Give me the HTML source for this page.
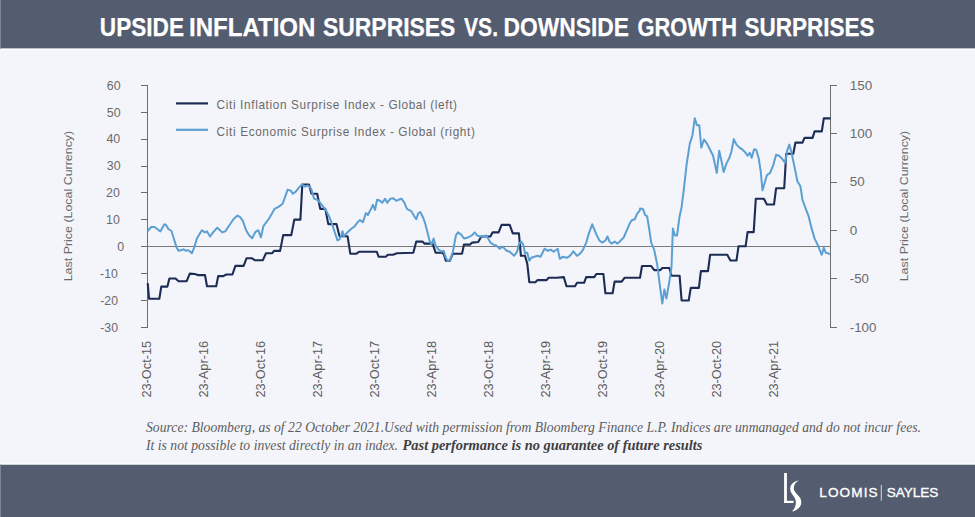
<!DOCTYPE html>
<html><head><meta charset="utf-8"><style>
html,body{margin:0;padding:0;background:#f4f5fa;}
body{width:975px;height:517px;overflow:hidden;font-family:"Liberation Sans",sans-serif;}
svg{display:block;}
</style></head><body>
<svg width="975" height="517" viewBox="0 0 975 517">
<rect x="0" y="0" width="975" height="517" fill="#f4f5fa"/>
<rect x="0" y="0" width="975" height="48.6" fill="#545c70"/>
<rect x="0" y="464.5" width="975" height="52.5" fill="#545c70"/>
<rect x="0" y="48.6" width="975" height="1.4" fill="#fcfcfe"/>
<rect x="0" y="463.3" width="975" height="1.2" fill="#fcfcfe"/>
<rect x="0" y="0" width="1" height="48.6" fill="#7d8598"/>
<rect x="0" y="464.5" width="1" height="52.5" fill="#7d8598"/>
<text x="99.80" y="36" font-family="Liberation Sans" font-weight="bold" font-size="26" fill="#ffffff" stroke="#ffffff" stroke-width="0.25" textLength="84.20" lengthAdjust="spacingAndGlyphs">UPSIDE</text>
<text x="189.00" y="36" font-family="Liberation Sans" font-weight="bold" font-size="26" fill="#ffffff" stroke="#ffffff" stroke-width="0.25" textLength="126.40" lengthAdjust="spacingAndGlyphs">INFLATION</text>
<text x="323.00" y="36" font-family="Liberation Sans" font-weight="bold" font-size="26" fill="#ffffff" stroke="#ffffff" stroke-width="0.25" textLength="132.40" lengthAdjust="spacingAndGlyphs">SURPRISES</text>
<text x="464.00" y="36" font-family="Liberation Sans" font-weight="bold" font-size="26" fill="#ffffff" stroke="#ffffff" stroke-width="0.25" textLength="34.00" lengthAdjust="spacingAndGlyphs">VS.</text>
<text x="503.60" y="36" font-family="Liberation Sans" font-weight="bold" font-size="26" fill="#ffffff" stroke="#ffffff" stroke-width="0.25" textLength="125.40" lengthAdjust="spacingAndGlyphs">DOWNSIDE</text>
<text x="637.40" y="36" font-family="Liberation Sans" font-weight="bold" font-size="26" fill="#ffffff" stroke="#ffffff" stroke-width="0.25" textLength="99.60" lengthAdjust="spacingAndGlyphs">GROWTH</text>
<text x="744.60" y="36" font-family="Liberation Sans" font-weight="bold" font-size="26" fill="#ffffff" stroke="#ffffff" stroke-width="0.25" textLength="130.00" lengthAdjust="spacingAndGlyphs">SURPRISES</text>
<line x1="147.5" y1="85" x2="147.5" y2="328" stroke="#6e6e6e" stroke-width="1"/>
<line x1="830.5" y1="85" x2="830.5" y2="328" stroke="#6e6e6e" stroke-width="1"/>
<line x1="141" y1="327.5" x2="148" y2="327.5" stroke="#6e6e6e" stroke-width="1"/>
<line x1="141" y1="300.5" x2="148" y2="300.5" stroke="#6e6e6e" stroke-width="1"/>
<line x1="141" y1="273.5" x2="148" y2="273.5" stroke="#6e6e6e" stroke-width="1"/>
<line x1="141" y1="246.5" x2="148" y2="246.5" stroke="#6e6e6e" stroke-width="1"/>
<line x1="141" y1="219.5" x2="148" y2="219.5" stroke="#6e6e6e" stroke-width="1"/>
<line x1="141" y1="192.5" x2="148" y2="192.5" stroke="#6e6e6e" stroke-width="1"/>
<line x1="141" y1="166.5" x2="148" y2="166.5" stroke="#6e6e6e" stroke-width="1"/>
<line x1="141" y1="139.5" x2="148" y2="139.5" stroke="#6e6e6e" stroke-width="1"/>
<line x1="141" y1="112.5" x2="148" y2="112.5" stroke="#6e6e6e" stroke-width="1"/>
<line x1="141" y1="85.5" x2="148" y2="85.5" stroke="#6e6e6e" stroke-width="1"/>
<line x1="830" y1="327.5" x2="837" y2="327.5" stroke="#6e6e6e" stroke-width="1"/>
<line x1="830" y1="278.5" x2="837" y2="278.5" stroke="#6e6e6e" stroke-width="1"/>
<line x1="830" y1="230.5" x2="837" y2="230.5" stroke="#6e6e6e" stroke-width="1"/>
<line x1="830" y1="182.5" x2="837" y2="182.5" stroke="#6e6e6e" stroke-width="1"/>
<line x1="830" y1="133.5" x2="837" y2="133.5" stroke="#6e6e6e" stroke-width="1"/>
<line x1="830" y1="85.5" x2="837" y2="85.5" stroke="#6e6e6e" stroke-width="1"/>
<line x1="147" y1="246.5" x2="830" y2="246.5" stroke="#7a7a7a" stroke-width="1"/>
<text x="120.6" y="89.6" text-anchor="end" font-family="Liberation Sans" font-size="13.4" fill="#6a6a6a" textLength="13.8" lengthAdjust="spacingAndGlyphs">60</text>
<text x="120.6" y="116.5" text-anchor="end" font-family="Liberation Sans" font-size="13.4" fill="#6a6a6a" textLength="13.8" lengthAdjust="spacingAndGlyphs">50</text>
<text x="120.19999999999999" y="143.4" text-anchor="end" font-family="Liberation Sans" font-size="13.4" fill="#6a6a6a" textLength="13.8" lengthAdjust="spacingAndGlyphs">40</text>
<text x="120.6" y="170.3" text-anchor="end" font-family="Liberation Sans" font-size="13.4" fill="#6a6a6a" textLength="13.8" lengthAdjust="spacingAndGlyphs">30</text>
<text x="119.89999999999999" y="197.2" text-anchor="end" font-family="Liberation Sans" font-size="13.4" fill="#6a6a6a" textLength="13.8" lengthAdjust="spacingAndGlyphs">20</text>
<text x="119.89999999999999" y="224.0" text-anchor="end" font-family="Liberation Sans" font-size="13.4" fill="#6a6a6a" textLength="13.8" lengthAdjust="spacingAndGlyphs">10</text>
<text x="124.19999999999999" y="250.9" text-anchor="end" font-family="Liberation Sans" font-size="13.4" fill="#6a6a6a" textLength="6.9" lengthAdjust="spacingAndGlyphs">0</text>
<text x="117.8" y="277.8" text-anchor="end" font-family="Liberation Sans" font-size="13.4" fill="#6a6a6a" textLength="17.7" lengthAdjust="spacingAndGlyphs">-10</text>
<text x="118.0" y="304.7" text-anchor="end" font-family="Liberation Sans" font-size="13.4" fill="#6a6a6a" textLength="17.7" lengthAdjust="spacingAndGlyphs">-20</text>
<text x="118.0" y="331.6" text-anchor="end" font-family="Liberation Sans" font-size="13.4" fill="#6a6a6a" textLength="17.7" lengthAdjust="spacingAndGlyphs">-30</text>
<text x="849.8" y="331.5" font-family="Liberation Sans" font-size="13.4" fill="#6a6a6a" textLength="26.6" lengthAdjust="spacingAndGlyphs">-100</text>
<text x="849.8" y="283.1" font-family="Liberation Sans" font-size="13.4" fill="#6a6a6a" textLength="19.1" lengthAdjust="spacingAndGlyphs">-50</text>
<text x="849.8" y="234.7" font-family="Liberation Sans" font-size="13.4" fill="#6a6a6a" textLength="7.5" lengthAdjust="spacingAndGlyphs">0</text>
<text x="849.8" y="186.3" font-family="Liberation Sans" font-size="13.4" fill="#6a6a6a" textLength="14.9" lengthAdjust="spacingAndGlyphs">50</text>
<text x="849.8" y="137.9" font-family="Liberation Sans" font-size="13.4" fill="#6a6a6a" textLength="22.4" lengthAdjust="spacingAndGlyphs">100</text>
<text x="849.8" y="89.5" font-family="Liberation Sans" font-size="13.4" fill="#6a6a6a" textLength="22.4" lengthAdjust="spacingAndGlyphs">150</text>
<text transform="translate(72.4,281.3) rotate(-90)" font-family="Liberation Sans" font-size="11.6" fill="#6a6a6a" textLength="150.5" lengthAdjust="spacingAndGlyphs">Last Price (Local Currency)</text>
<text transform="translate(907.7,281.3) rotate(-90)" font-family="Liberation Sans" font-size="11.6" fill="#6a6a6a" textLength="150.5" lengthAdjust="spacingAndGlyphs">Last Price (Local Currency)</text>
<text transform="translate(151.1,397.6) rotate(-90)" font-family="Liberation Sans" font-size="12.6" fill="#5a5a5a" textLength="56.8" lengthAdjust="spacingAndGlyphs">23-Oct-15</text>
<text transform="translate(208.1,397.6) rotate(-90)" font-family="Liberation Sans" font-size="12.6" fill="#5a5a5a" textLength="56.8" lengthAdjust="spacingAndGlyphs">23-Apr-16</text>
<text transform="translate(265.1,397.6) rotate(-90)" font-family="Liberation Sans" font-size="12.6" fill="#5a5a5a" textLength="56.8" lengthAdjust="spacingAndGlyphs">23-Oct-16</text>
<text transform="translate(322.1,397.6) rotate(-90)" font-family="Liberation Sans" font-size="12.6" fill="#5a5a5a" textLength="56.8" lengthAdjust="spacingAndGlyphs">23-Apr-17</text>
<text transform="translate(379.1,397.6) rotate(-90)" font-family="Liberation Sans" font-size="12.6" fill="#5a5a5a" textLength="56.8" lengthAdjust="spacingAndGlyphs">23-Oct-17</text>
<text transform="translate(436.1,397.6) rotate(-90)" font-family="Liberation Sans" font-size="12.6" fill="#5a5a5a" textLength="56.8" lengthAdjust="spacingAndGlyphs">23-Apr-18</text>
<text transform="translate(493.1,397.6) rotate(-90)" font-family="Liberation Sans" font-size="12.6" fill="#5a5a5a" textLength="56.8" lengthAdjust="spacingAndGlyphs">23-Oct-18</text>
<text transform="translate(550.1,397.6) rotate(-90)" font-family="Liberation Sans" font-size="12.6" fill="#5a5a5a" textLength="56.8" lengthAdjust="spacingAndGlyphs">23-Apr-19</text>
<text transform="translate(607.1,397.6) rotate(-90)" font-family="Liberation Sans" font-size="12.6" fill="#5a5a5a" textLength="56.8" lengthAdjust="spacingAndGlyphs">23-Oct-19</text>
<text transform="translate(664.1,397.6) rotate(-90)" font-family="Liberation Sans" font-size="12.6" fill="#5a5a5a" textLength="56.8" lengthAdjust="spacingAndGlyphs">23-Apr-20</text>
<text transform="translate(721.1,397.6) rotate(-90)" font-family="Liberation Sans" font-size="12.6" fill="#5a5a5a" textLength="56.8" lengthAdjust="spacingAndGlyphs">23-Oct-20</text>
<text transform="translate(778.1,397.6) rotate(-90)" font-family="Liberation Sans" font-size="12.6" fill="#5a5a5a" textLength="56.8" lengthAdjust="spacingAndGlyphs">23-Apr-21</text>
<line x1="176" y1="103.4" x2="208" y2="103.4" stroke="#1d2c55" stroke-width="2.2"/>
<line x1="176" y1="129.8" x2="208" y2="129.8" stroke="#5b9fd3" stroke-width="2.2"/>
<text transform="translate(216.6,109.4) scale(0.88,1)" font-family="Liberation Sans" font-size="13.4" fill="#6a6a6a" textLength="273.2" lengthAdjust="spacing">Citi Inflation Surprise Index - Global (left)</text>
<text transform="translate(216.6,135.6) scale(0.88,1)" font-family="Liberation Sans" font-size="13.4" fill="#6a6a6a" textLength="293.5" lengthAdjust="spacing">Citi Economic Surprise Index - Global (right)</text>
<path d="M147.7,283.2 L149.1,298.8 L159.3,298.8 L161.3,286.6 L167.4,286.6 L169.4,278.5 L175.5,278.5 L178.6,281.2 L186.7,281.2 L189.8,273.6 L194.8,274.0 L197.9,275.1 L205.0,275.1 L207.0,286.2 L216.2,286.2 L218.2,276.1 L223.3,276.1 L226.3,274.5 L232.4,274.5 L235.4,265.9 L243.6,265.9 L246.6,258.2 L251.7,258.2 L254.7,260.2 L262.9,260.2 L265.9,253.3 L272.0,253.3 L274.0,250.9 L280.1,250.9 L283.2,235.1 L291.3,235.1 L294.3,219.6 L300.4,219.6 L302.3,184.5 L309.0,184.5 L311.5,193.7 L317.2,193.7 L320.2,208.9 L325.3,208.9 L328.3,224.1 L336.5,224.1 L339.5,236.3 L347.6,236.3 L350.3,253.7 L356.4,253.7 L359.4,251.7 L376.7,251.7 L378.7,256.8 L385.8,256.8 L387.9,254.8 L393.0,254.8 L397.0,253.3 L413.3,252.7 L416.3,241.6 L422.4,241.6 L424.4,243.6 L432.6,243.6 L435.6,252.7 L441.7,252.7 L443.7,253.7 L445.8,260.8 L449.8,260.8 L452.9,253.7 L462.0,253.7 L464.0,244.6 L470.1,244.6 L472.2,242.6 L478.2,242.0 L481.3,236.5 L490.4,236.5 L492.5,232.4 L498.6,232.4 L501.6,224.9 L509.7,224.9 L512.8,233.4 L518.9,233.4 L520.9,255.8 L525.0,255.8 L527.3,263.9 L529.3,282.2 L535.4,282.2 L537.4,280.1 L546.6,280.1 L548.6,277.7 L556.7,277.7 L563.8,277.1 L566.5,286.2 L575.0,286.2 L577.0,282.8 L584.1,282.8 L586.2,277.1 L594.3,277.1 L596.3,274.0 L603.4,274.0 L605.4,293.3 L612.6,293.3 L614.6,281.6 L621.7,281.6 L624.7,277.7 L640.0,277.7 L642.0,266.0 L651.2,266.0 L654.2,270.1 L660.3,270.1 L662.3,268.0 L669.4,268.0 L671.5,275.7 L679.6,275.7 L681.6,300.5 L688.7,300.5 L690.8,287.9 L698.9,287.9 L700.9,271.1 L708.0,271.1 L710.1,254.8 L727.3,254.8 L730.4,260.5 L736.5,260.5 L738.5,246.3 L745.6,246.3 L747.6,232.1 L753.7,232.1 L755.8,198.8 L763.9,198.8 L766.9,204.5 L774.0,204.5 L776.1,188.3 L784.2,188.3 L786.2,153.7 L793.3,153.7 L795.4,142.6 L802.5,142.6 L804.5,137.9 L812.6,137.9 L814.6,131.4 L821.8,131.4 L823.8,118.4 L830.5,118.4" fill="none" stroke="#1d2c55" stroke-width="2.1" stroke-linejoin="round"/>
<path d="M147.7,231.0 L151.2,226.9 L154.2,226.9 L157.3,229.0 L160.3,231.4 L164.4,224.3 L166.0,224.9 L168.4,229.0 L171.5,231.0 L173.5,237.5 L176.6,247.6 L178.6,250.7 L181.6,250.1 L183.7,249.3 L185.7,250.7 L187.7,250.1 L189.8,251.3 L191.8,253.3 L193.8,248.7 L196.9,238.5 L199.9,233.4 L201.9,230.4 L205.0,232.4 L207.0,231.4 L210.1,236.5 L213.1,232.4 L217.2,227.7 L220.2,230.4 L222.2,232.4 L225.3,231.4 L229.4,225.3 L233.4,219.2 L237.5,215.6 L239.9,216.8 L243.0,221.1 L246.1,230.2 L249.1,235.3 L252.2,238.3 L255.2,232.2 L258.3,230.2 L260.9,237.3 L263.4,226.2 L266.4,222.1 L269.4,218.0 L274.5,208.9 L278.6,206.9 L282.6,203.8 L287.7,189.6 L290.8,190.6 L292.8,193.7 L295.8,191.6 L298.9,187.6 L301.9,184.5 L305.0,186.6 L308.0,185.5 L311.1,188.6 L314.1,198.7 L317.2,199.8 L320.2,202.8 L323.3,206.9 L326.3,210.9 L329.4,217.0 L332.4,225.1 L335.4,234.3 L337.5,240.4 L339.5,239.4 L341.5,234.3 L342.6,231.2 L343.6,236.3 L346.6,233.3 L350.7,229.2 L354.7,226.2 L357.8,222.1 L359.8,220.1 L362.9,222.1 L365.9,213.0 L367.9,215.0 L371.0,208.9 L373.0,204.8 L375.0,209.9 L377.1,199.8 L380.1,200.8 L382.2,202.8 L385.2,198.7 L387.2,202.8 L390.3,198.7 L393.3,198.3 L396.4,200.8 L398.4,199.8 L401.4,198.7 L404.5,202.8 L406.5,207.9 L407.2,209.1 L411.2,211.1 L414.3,216.2 L416.3,219.2 L418.3,213.1 L420.4,212.1 L423.4,218.2 L425.4,224.3 L427.5,232.4 L429.5,240.5 L431.5,244.6 L433.6,238.5 L435.6,245.6 L438.6,249.7 L441.7,251.7 L443.7,250.7 L445.8,257.8 L447.8,260.8 L450.2,259.8 L452.9,251.7 L455.9,235.5 L457.9,232.4 L461.0,234.4 L464.0,238.5 L468.1,237.5 L472.2,235.1 L474.6,232.4 L477.2,235.5 L480.3,236.5 L483.3,236.5 L486.4,235.5 L490.4,242.6 L493.5,244.6 L496.5,245.6 L499.6,248.7 L502.6,246.6 L506.7,250.7 L509.7,251.7 L510.0,252.1 L514.1,255.8 L517.1,251.7 L519.1,243.6 L521.2,241.6 L523.2,244.6 L525.2,253.7 L527.3,252.7 L529.3,260.8 L531.3,257.8 L534.4,256.8 L537.4,255.8 L540.5,256.8 L544.5,248.7 L547.6,250.7 L550.6,249.7 L553.7,251.7 L557.7,248.7 L559.8,258.8 L562.8,256.8 L566.9,257.8 L569.9,255.8 L573.4,251.3 L577.0,255.8 L580.1,253.7 L583.1,249.7 L586.2,242.6 L589.2,232.4 L592.2,224.3 L594.3,229.4 L596.3,234.4 L599.4,240.5 L602.4,242.6 L605.4,240.5 L607.5,236.5 L609.5,241.6 L611.5,243.6 L614.6,241.6 L617.6,243.6 L620.7,240.5 L623.7,237.5 L626.8,230.4 L629.8,223.3 L631.8,220.2 L634.9,219.2 L636.9,214.1 L640.0,210.1 L640.0,208.5 L643.0,209.1 L645.1,215.2 L647.1,216.2 L649.1,228.4 L651.2,242.6 L654.2,249.8 L657.3,265.0 L659.3,281.2 L662.3,303.6 L664.4,289.4 L666.4,298.5 L669.4,281.2 L671.5,267.0 L672.9,228.4 L674.9,235.5 L677.0,235.5 L679.6,216.2 L681.6,207.1 L683.7,190.3 L686.7,163.9 L689.8,143.6 L692.4,135.5 L694.8,118.2 L696.9,125.3 L699.3,125.3 L701.3,147.6 L704.0,139.5 L707.0,143.6 L710.1,149.7 L713.1,155.8 L716.8,173.0 L719.2,150.7 L721.2,159.8 L723.7,172.0 L726.3,163.9 L729.4,157.8 L731.4,151.7 L733.8,139.1 L736.5,144.6 L739.5,147.6 L742.6,149.7 L745.6,152.7 L747.6,155.8 L749.7,152.7 L751.7,157.8 L754.1,149.3 L756.2,149.7 L758.8,158.8 L760.8,172.0 L762.5,190.3 L764.9,182.2 L766.9,175.1 L770.0,173.0 L773.0,165.9 L776.1,154.8 L779.1,155.8 L782.2,158.8 L785.2,162.9 L787.2,150.7 L789.3,144.6 L791.3,151.7 L794.3,165.9 L797.4,181.2 L800.4,186.2 L802.5,200.0 L805.5,208.1 L808.6,216.2 L811.6,228.4 L814.6,238.6 L817.7,244.7 L819.7,249.8 L821.8,254.8 L823.8,247.7 L825.8,252.8 L827.8,253.2 L829.9,254.4" fill="none" stroke="#5b9fd3" stroke-width="2" stroke-linejoin="round"/>
<text x="146" y="432.1" font-family="Liberation Serif" font-style="italic" font-size="14.5" fill="#5c5c5c" textLength="775" lengthAdjust="spacingAndGlyphs">Source: Bloomberg, as of 22 October 2021.Used with permission from Bloomberg Finance L.P. Indices are unmanaged and do not incur fees.</text>
<text x="146" y="450" font-family="Liberation Serif" font-style="italic" font-size="14.5" fill="#5c5c5c" textLength="252" lengthAdjust="spacingAndGlyphs">It is not possible to invest directly in an index.</text>
<text x="402.5" y="450" font-family="Liberation Serif" font-style="italic" font-weight="bold" font-size="14.5" fill="#404040" textLength="300" lengthAdjust="spacingAndGlyphs">Past performance is no guarantee of future results</text>
<g fill="#ffffff"><rect x="784.1" y="473" width="2.8" height="30"/><rect x="784.1" y="500.8" width="9.5" height="2.2"/></g>
<path d="M798.9,480.6 C794.8,481 790.2,484 790.2,488.8 C790.2,491.6 791.7,493.6 793.1,495.4 C794.6,497.4 795.9,499.6 795.9,502.6 C795.9,506 794.6,509 792.3,511 L793,511.4 C798,509.8 801.3,506.2 801.3,502.4 C801.3,498.8 799.6,497 797.7,495 C795.9,493 793.8,491 793.8,488.6 C793.8,484.8 796.2,481.8 798.9,480.6 Z" fill="#ffffff"/>
<text x="819.3" y="496.8" font-family="Liberation Sans" font-size="13.6" fill="#ffffff" stroke="#ffffff" stroke-width="0.35" textLength="58.3" lengthAdjust="spacing">LOOMIS</text>
<rect x="880.8" y="485" width="0.9" height="15.7" fill="#e8eaef"/>
<text x="886.8" y="496.8" font-family="Liberation Sans" font-size="13.6" fill="#ffffff" stroke="#ffffff" stroke-width="0.35" textLength="51.5" lengthAdjust="spacing">SAYLES</text>
</svg>
</body></html>
